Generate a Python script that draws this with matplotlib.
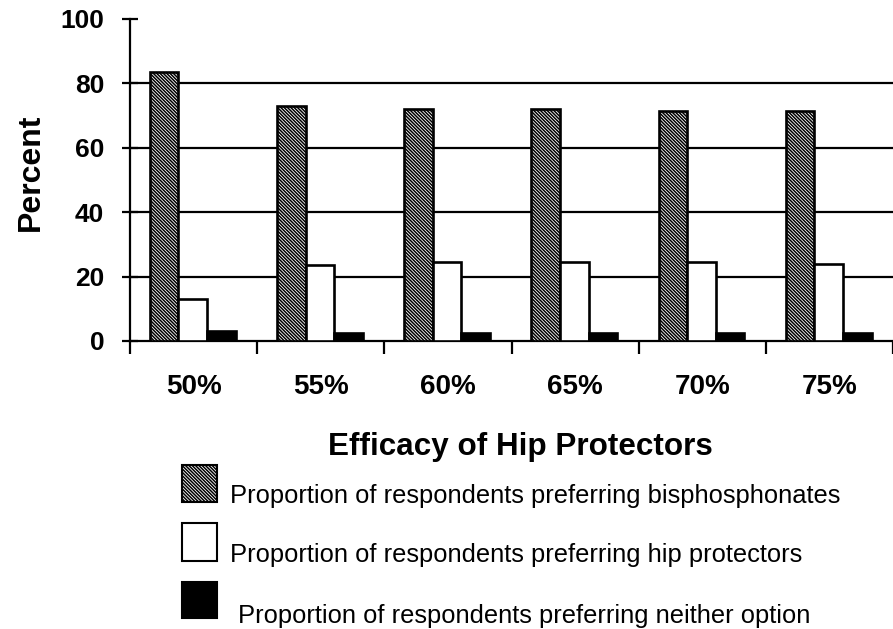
import numpy as np
import matplotlib
matplotlib.use("Agg")
import matplotlib.pyplot as plt
from matplotlib.patches import Rectangle

plt.rcParams['font.family'] = ['Liberation Sans', 'DejaVu Sans']
plt.rcParams['hatch.linewidth'] = 1.1

# Efficacy levels and the share of respondents choosing each option
efficacy = ['50%', '55%', '60%', '65%', '70%', '75%']
bisphosphonates = [83.5, 73, 72, 72, 71.5, 71.5]
hip_protectors = [13, 23.5, 24.5, 24.5, 24.5, 24]
neither = [3, 2.5, 2.5, 2.5, 2.5, 2.5]
legend_labels = ['Proportion of respondents preferring bisphosphonates',
                 'Proportion of respondents preferring hip protectors',
                 'Proportion of respondents preferring neither option']

W, H = 893, 629
fig = plt.figure(figsize=(W / 100, H / 100), dpi=100)
ax = fig.add_axes([130 / W, 1 - 341 / H, (W - 130) / W, (341 - 19) / H])

x = np.arange(len(efficacy))
bw = 0.225
off = 0.156
styles = [dict(facecolor='white', hatch='\\' * 10),
          dict(facecolor='white'),
          dict(facecolor='black')]
series = [bisphosphonates, hip_protectors, neither]
for i, (vals, st) in enumerate(zip(series, styles)):
    ax.bar(x + off + i * bw, vals, width=bw, align='edge',
           edgecolor='black', linewidth=1.9, zorder=3, **st)

for yv in [20, 40, 60, 80]:
    ax.axhline(yv, color='black', linewidth=1.6, zorder=1)

ax.set_xlim(0, (W - 130) / 128.6)
ax.set_ylim(0, 100)
for s in ['top', 'right']:
    ax.spines[s].set_visible(False)
ax.spines['left'].set_linewidth(1.6)
ax.spines['bottom'].set_linewidth(1.6)

ax.set_yticks([0, 20, 40, 60, 80, 100])
ax.tick_params(axis='y', length=11, width=1.6, pad=13, labelsize=19,
               direction='inout')
for t in ax.get_yticklabels():
    t.set_fontweight('bold')

ax.set_xticks(np.arange(len(efficacy) + 1))
ax.set_xticklabels([])
ax.tick_params(axis='x', which='major', length=9, width=1.6, direction='out')
ax.set_xticks(x + 0.5, minor=True)
ax.set_xticklabels(efficacy, minor=True, fontsize=20, fontweight='bold')
ax.tick_params(axis='x', which='minor', length=0, pad=24)

fig.text(31 / W, 1 - 172 / H, 'Percent', rotation=90, ha='center', va='center',
         fontsize=23, fontweight='bold')
fig.text(520 / W, 1 - 447 / H, 'Efficacy of Hip Protectors', ha='center',
         va='center', fontsize=22.6, fontweight='bold')

# legend drawn by hand below the axis title
boxes = [(182, 465, 502), (182, 523, 561), (182, 582, 618)]
text_pos = [(230, 503), (230, 562), (238, 623)]
for st, (bx, top, bot), (tx, ty), lab in zip(styles, boxes, text_pos, legend_labels):
    fig.add_artist(Rectangle((bx / W, 1 - bot / H), 35 / W, (bot - top) / H,
                             transform=fig.transFigure, edgecolor='black',
                             linewidth=1.5, **st))
    fig.text(tx / W, 1 - ty / H, lab, ha='left', va='baseline', fontsize=18.4)

fig.savefig('out.png', dpi=100)
